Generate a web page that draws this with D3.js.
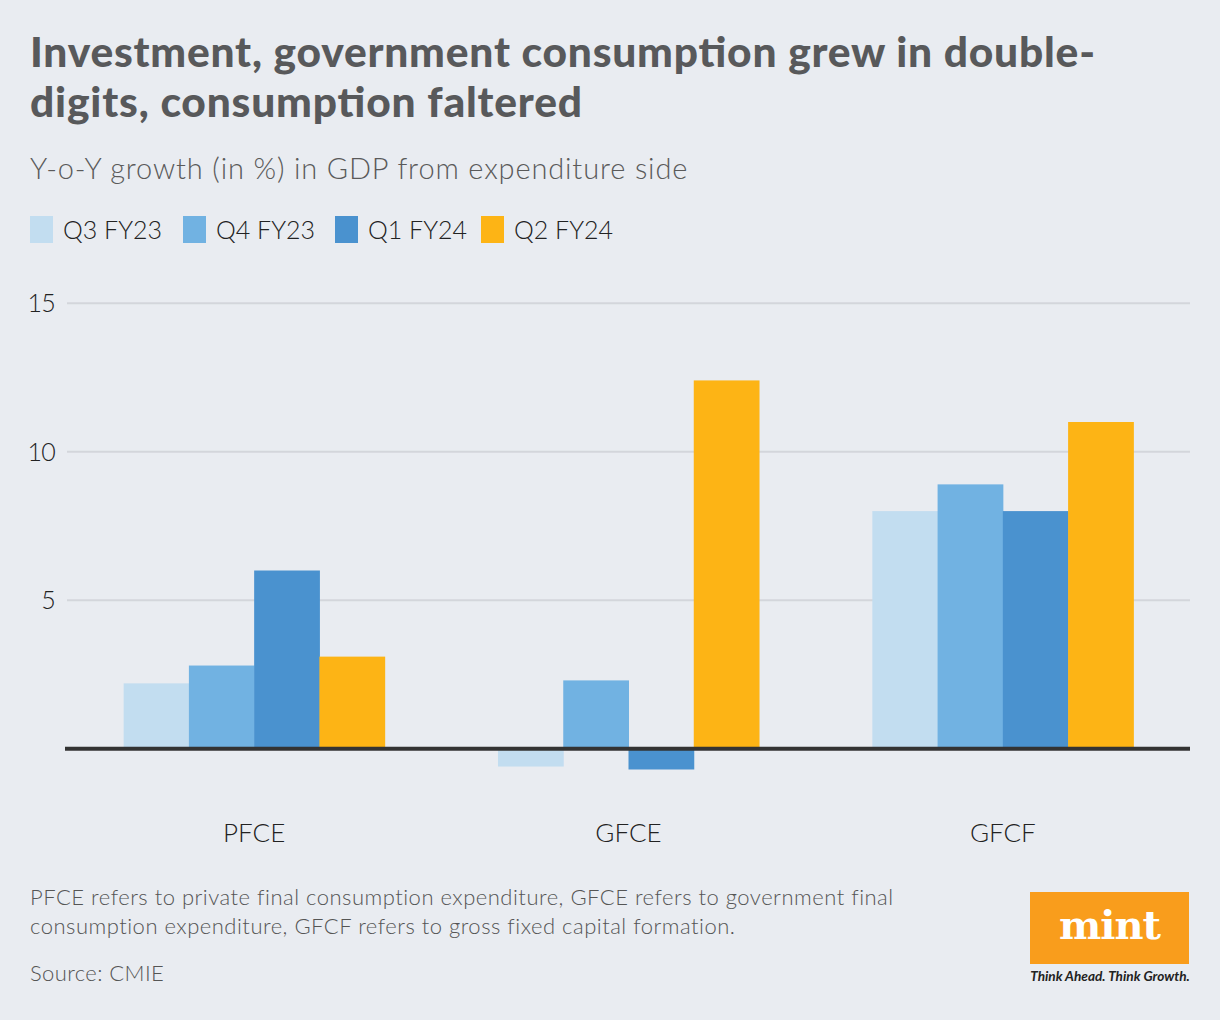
<!DOCTYPE html>
<html>
<head>
<meta charset="utf-8">
<script src="https://cdn.jsdelivr.net/npm/d3@7/dist/d3.min.js"></script>
<style>
  html, body { margin: 0; padding: 0; background: #e9ecf1; }
  svg { display: block; }
</style>
</head>
<body>
<svg id="chart" width="1220" height="1020"></svg>
<script>
const categories = ["PFCE", "GFCE", "GFCF"];
const seriesNames = ["Q3 FY23", "Q4 FY23", "Q1 FY24", "Q2 FY24"];
const seriesColors = ["#c2ddf0", "#71b2e2", "#4a92cf", "#fdb415"];
const q3fy23 = [2.2, -0.6, 8.0];
const q4fy23 = [2.8, 2.3, 8.9];
const q1fy24 = [6.0, -0.7, 8.0];
const q2fy24 = [3.1, 12.4, 11.0];
const seriesValues = [q3fy23, q4fy23, q1fy24, q2fy24];
const yTicks = [5, 10, 15];

const svg = d3.select("#chart");
const W = 1220, H = 1020;
svg.append("rect").attr("width", W).attr("height", H).attr("fill", "#e9ecf1");

const font = "Lato, 'Open Sans', sans-serif";

// Title
const title = svg.append("text").attr("font-family", font).attr("font-weight", 900)
  .attr("font-size", 42.5).attr("fill", "#58595b");
title.append("tspan").attr("x", 30).attr("y", 67).attr("textLength", 1065).attr("lengthAdjust", "spacing")
  .text("Investment, government consumption grew in double-");
title.append("tspan").attr("x", 30).attr("y", 117).attr("textLength", 552).attr("lengthAdjust", "spacing")
  .text("digits, consumption faltered");

// Subtitle
svg.append("text").attr("x", 30).attr("y", 179).attr("font-family", font).attr("font-weight", 300)
  .attr("font-size", 29).attr("fill", "#5a5a5a").attr("letter-spacing", 0.85)
  .text("Y-o-Y growth (in %) in GDP from expenditure side");

// Legend
const legendX = [30, 183, 335, 481];
const legend = svg.append("g");
seriesNames.forEach((s, i) => {
  const g = legend.append("g").attr("transform", `translate(${legendX[i]},216)`);
  g.append("rect").attr("width", 23).attr("height", 27).attr("fill", seriesColors[i]);
  g.append("text").attr("x", 33).attr("y", 23).attr("font-family", font).attr("font-weight", 300)
    .attr("font-size", 25).attr("fill", "#222").text(s);
});

// Scales
const x0 = d3.scaleBand().domain(categories).range([67, 1190]).paddingInner(0.3027).paddingOuter(0.1513);
const x1 = d3.scaleBand().domain(seriesNames).range([0, x0.bandwidth()]);
const y = d3.scaleLinear().domain([0, 15]).range([748.7, 303.2]);

// Gridlines
svg.append("g").selectAll("line").data(yTicks).join("line")
  .attr("x1", 67).attr("x2", 1190)
  .attr("y1", d => y(d)).attr("y2", d => y(d))
  .attr("stroke", "#d3d6db").attr("stroke-width", 2);

// Y labels
svg.append("g").selectAll("text").data(yTicks).join("text")
  .attr("x", 55).attr("y", d => y(d)).attr("dy", "0.36em")
  .attr("text-anchor", "end").attr("font-family", font).attr("font-weight", 300)
  .attr("font-size", 25).attr("fill", "#222").attr("letter-spacing", -0.8).text(d => d);

// Bars
const bars = svg.append("g");
categories.forEach((c, ci) => {
  seriesNames.forEach((s, si) => {
    const v = seriesValues[si][ci];
    bars.append("rect")
      .attr("x", x0(c) + x1(s))
      .attr("width", x1.bandwidth() + 0.5)
      .attr("y", Math.min(y(v), y(0)))
      .attr("height", Math.abs(y(v) - y(0)))
      .attr("fill", seriesColors[si]);
  });
});

// Zero line
svg.append("line").attr("x1", 65).attr("x2", 1190).attr("y1", y(0)).attr("y2", y(0))
  .attr("stroke", "#333333").attr("stroke-width", 4);

// X labels
svg.append("g").selectAll("text").data(categories).join("text")
  .attr("x", d => x0(d) + x0.bandwidth() / 2).attr("y", 842)
  .attr("text-anchor", "middle").attr("font-family", font).attr("font-weight", 300)
  .attr("font-size", 26).attr("fill", "#222").text(d => d);

// Footnote
const foot = svg.append("text").attr("font-family", font).attr("font-weight", 300)
  .attr("font-size", 22).attr("fill", "#555").attr("letter-spacing", 0.5);
foot.append("tspan").attr("x", 30).attr("y", 905).text("PFCE refers to private final consumption expenditure, GFCE refers to government final");
foot.append("tspan").attr("x", 30).attr("y", 934).text("consumption expenditure, GFCF refers to gross fixed capital formation.");
svg.append("text").attr("x", 30).attr("y", 981).attr("font-family", font).attr("font-weight", 300)
  .attr("font-size", 22).attr("fill", "#555").attr("letter-spacing", 0.4).text("Source: CMIE");

// Logo
svg.append("rect").attr("x", 1030).attr("y", 892).attr("width", 159).attr("height", 72).attr("fill", "#f99d1c");
svg.append("text").attr("x", 1109.5).attr("y", 939).attr("text-anchor", "middle")
  .attr("font-family", "'DejaVu Serif', 'Liberation Serif', serif").attr("font-weight", 700)
  .attr("font-size", 40).attr("fill", "#ffffff").attr("letter-spacing", -1).text("mint");
svg.append("text").attr("x", 1110).attr("y", 981).attr("text-anchor", "middle")
  .attr("font-family", font).attr("font-weight", 700).attr("font-style", "italic")
  .attr("font-size", 13.6).attr("fill", "#222").text("Think Ahead. Think Growth.");
</script>
</body>
</html>
